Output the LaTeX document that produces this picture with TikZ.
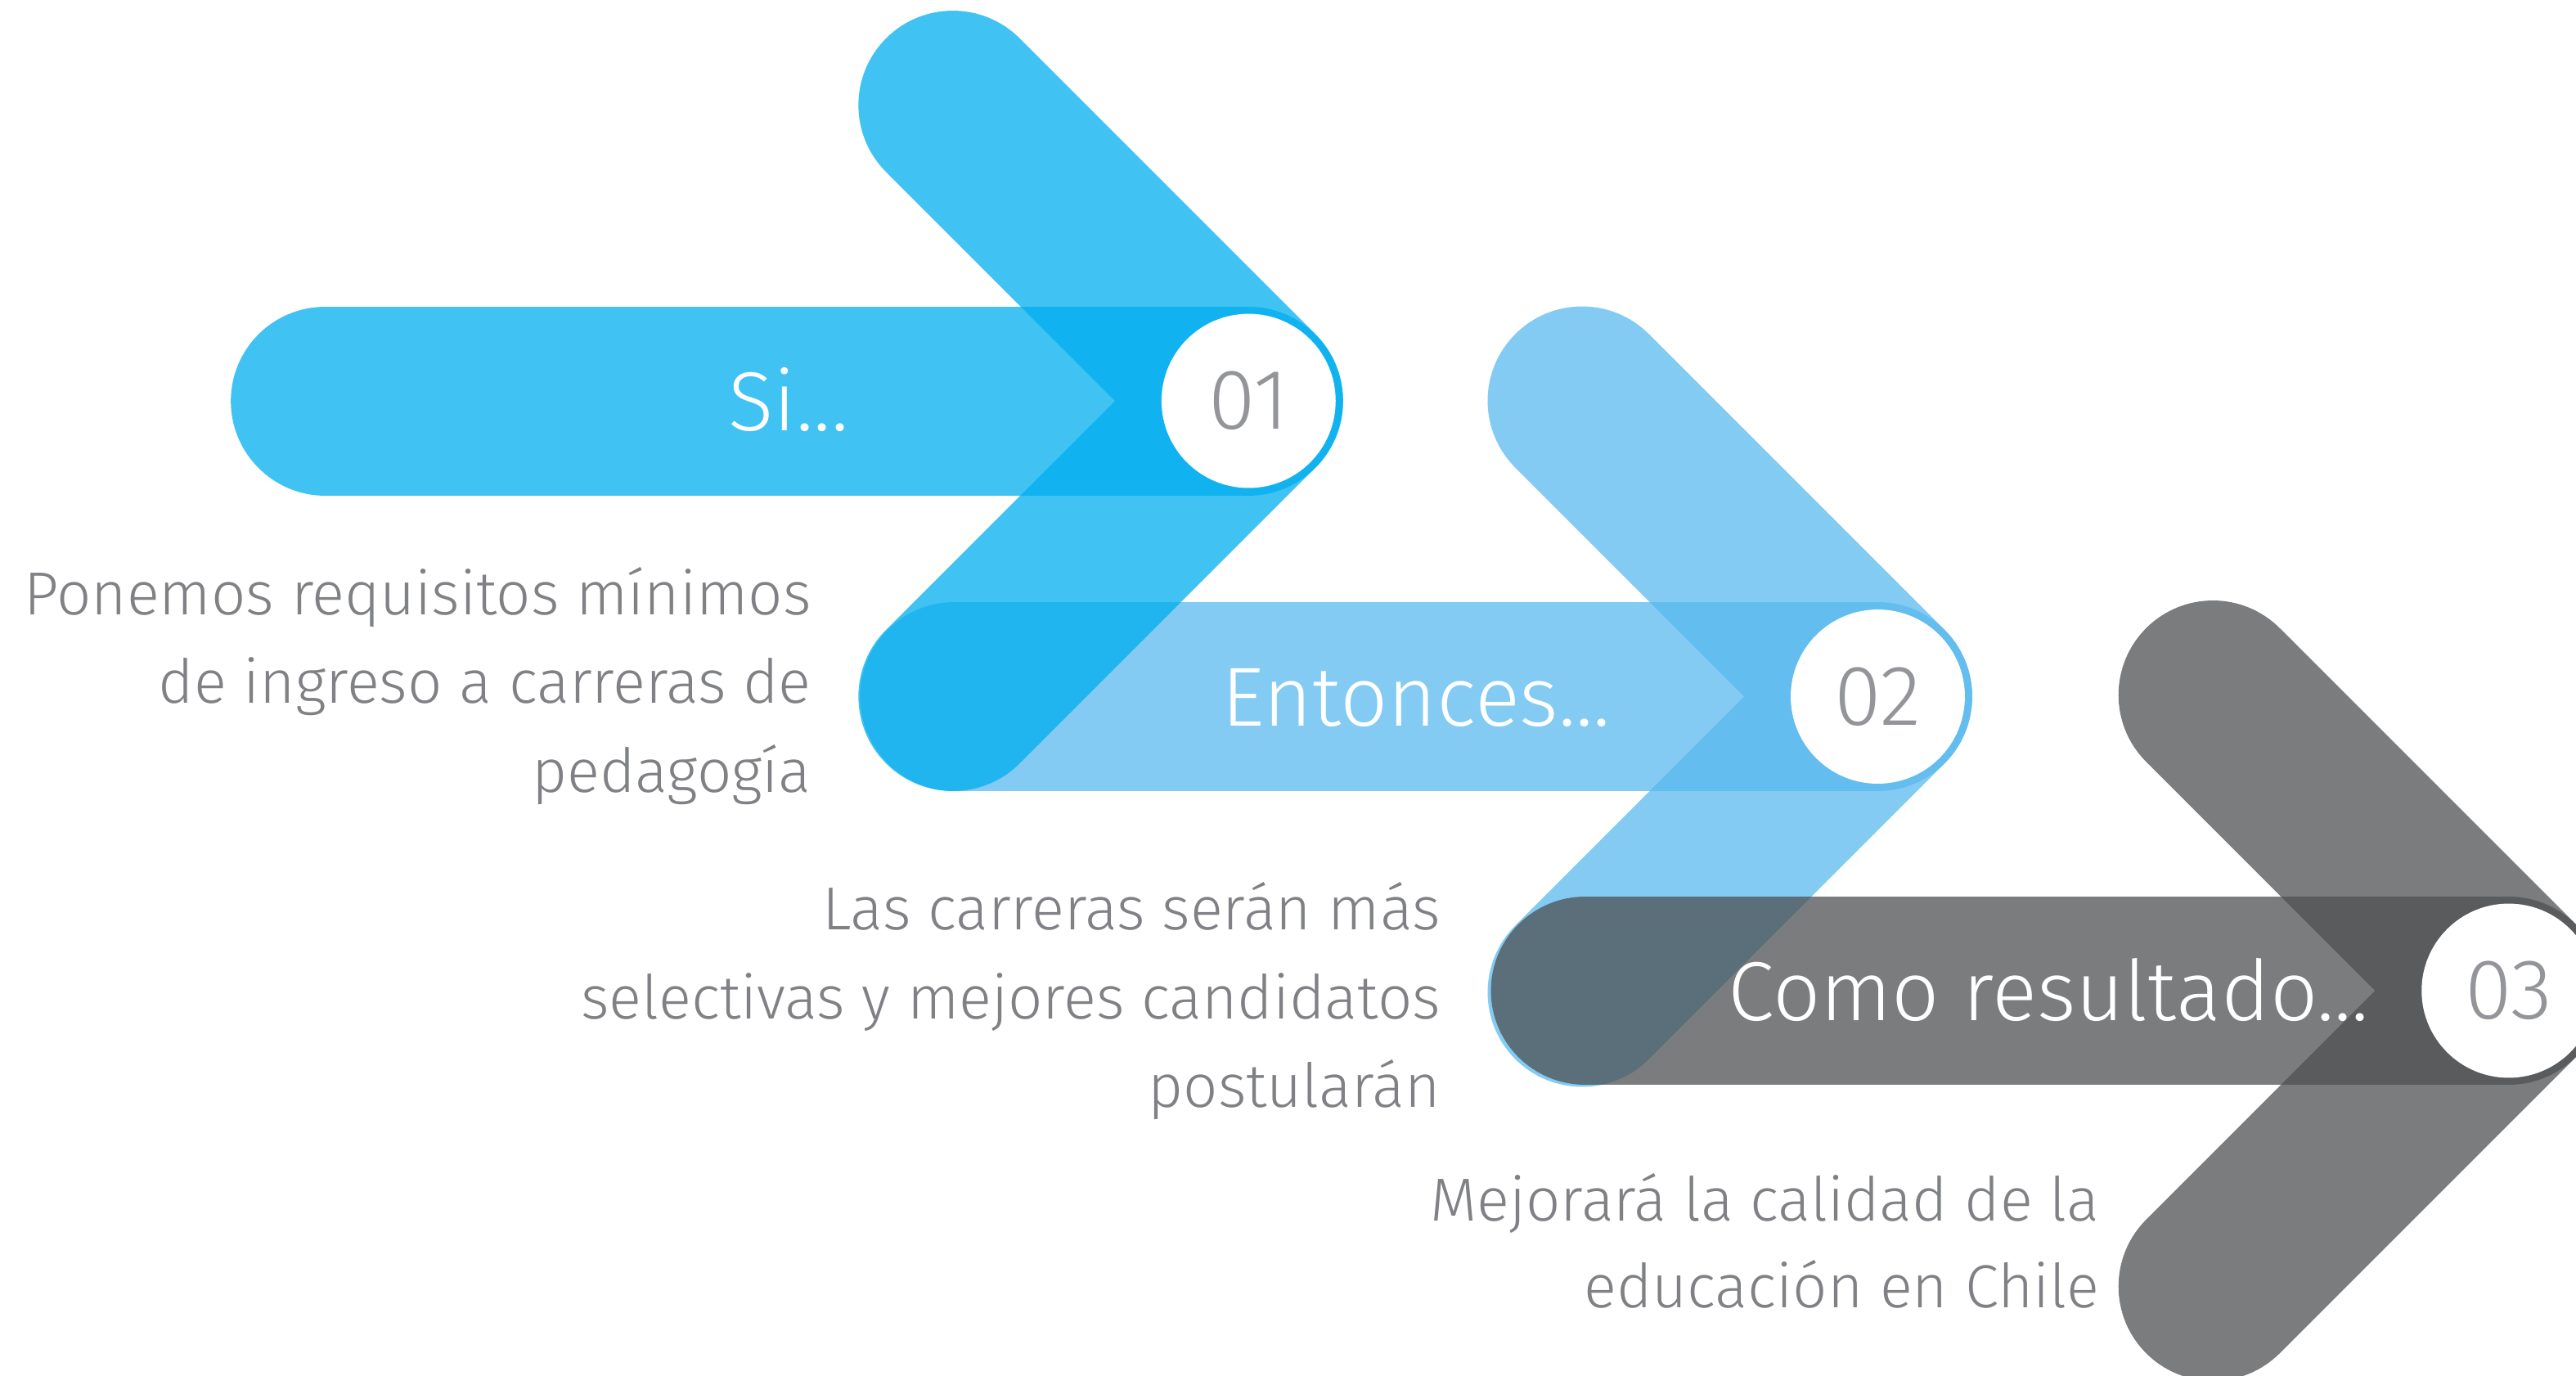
\documentclass[tikz,border=0pt]{standalone}
\usepackage{fontspec}
\IfFontExistsTF{Fira Sans Light}{\setmainfont{Fira Sans Light}}{%
  \IfFontExistsTF{Lato Light}{\setmainfont{Lato Light}}{\setmainfont{Fira Sans}}}
\definecolor{cyanA}{RGB}{0,174,239}
\definecolor{blueB}{RGB}{89,185,238}
\definecolor{greyC}{RGB}{78,80,82}
\definecolor{bodytxt}{RGB}{128,129,132}
\definecolor{numtxt}{RGB}{147,149,152}
\begin{document}
\begin{tikzpicture}[x=1pt,y=-1pt,
  band/.style={line width=115pt, line cap=round, line join=round, draw opacity=0.75},
  numdisc/.style={circle, fill=white, minimum size=106pt, inner sep=0pt, text=numtxt, font=\fontsize{52}{60}\selectfont},
  headtxt/.style={text=white, font=\fontsize{51}{60}\selectfont, anchor=base, inner sep=0pt},
  bodyline/.style={text=bodytxt, font=\fontsize{37}{54}\selectfont, anchor=base east, inner sep=0pt}]
\useasboundingbox (0,0) rectangle (1568,837.5);
% arrow 2 (lies under arrows 1 and 3)
\draw[band, draw=blueB] (581,424) -- (1143,424);
\draw[band, draw=blueB] (963,244) -- (1143,424) -- (963,604);
% arrow 1
\draw[band, draw=cyanA] (198,244) -- (760,244);
\draw[band, draw=cyanA] (580,64) -- (760,244) -- (580,424);
% arrow 3
\draw[band, draw=greyC] (965,603) -- (1527,603);
\draw[band, draw=greyC] (1347,423) -- (1527,603) -- (1347,783);
% number discs
\node[numdisc] (n1) at (760,244) {01};
\node[numdisc] (n2) at (1143,424) {02};
\node[numdisc] (n3) at (1527,603) {03};
% headings
\node[headtxt] (h1) at (480,262) {Si...};
\node[headtxt] (h2) at (862,442) {Entonces...};
\node[headtxt] (h3) at (1247,621) {Como resultado...};
% body texts
\node[bodyline] (a1) at (494,374) {Ponemos requisitos mínimos};
\node[bodyline] (a2) at (494,428) {de ingreso a carreras de};
\node[bodyline] (a3) at (494,482) {pedagogía};
\node[bodyline] (b1) at (877,566) {Las carreras serán más};
\node[bodyline] (b2) at (877,620) {selectivas y mejores candidatos};
\node[bodyline] (b3) at (877,674) {postularán};
\node[bodyline] (c1) at (1278,743) {Mejorará la calidad de la};
\node[bodyline] (c2) at (1278,796) {educación en Chile};
\end{tikzpicture}
\end{document}
